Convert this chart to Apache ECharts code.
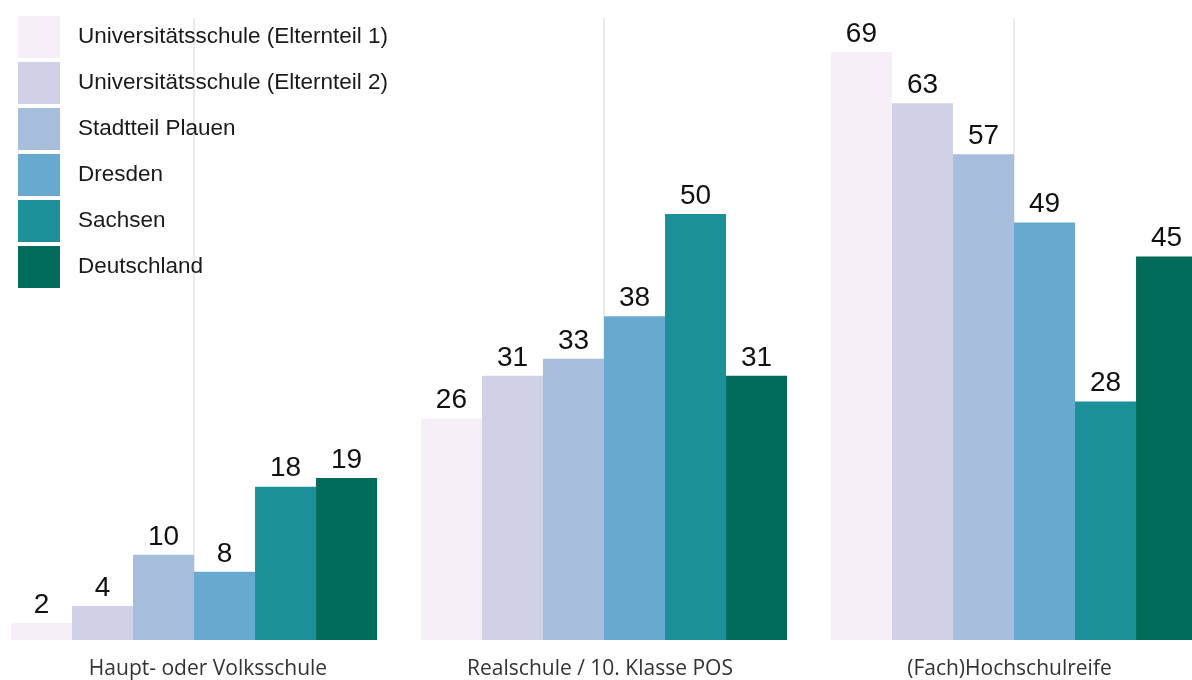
<!DOCTYPE html>
<html>
<head>
<meta charset="utf-8">
<script src="https://cdn.jsdelivr.net/npm/echarts@6/dist/echarts.min.js"></script>
<style>html,body{margin:0;padding:0;background:#fff;overflow:hidden;width:1192px;height:680px}#c{width:1230px;height:680px;margin-left:-11px}</style>
</head>
<body>
<div id="c"></div>
<script>
const categories = ['Haupt- oder Volksschule', 'Realschule / 10. Klasse POS', '(Fach)Hochschulreife'];
const seriesNames = ['Universitätsschule (Elternteil 1)', 'Universitätsschule (Elternteil 2)', 'Stadtteil Plauen', 'Dresden', 'Sachsen', 'Deutschland'];
const uniEltern1 = [2, 26, 69];
const uniEltern2 = [4, 31, 63];
const plauen = [10, 33, 57];
const dresden = [8, 38, 49];
const sachsen = [18, 50, 28];
const deutschland = [19, 31, 45];
const values = [uniEltern1, uniEltern2, plauen, dresden, sachsen, deutschland];
const colors = ['#f6eff7', '#d0d1e6', '#a6bddb', '#67a9cf', '#1c9099', '#016c59'];

const chart = echarts.init(document.getElementById('c'));
const series = seriesNames.map((name, i) => ({
  name: name,
  type: 'bar',
  data: values[i],
  barGap: '0%',
  barCategoryGap: '10.7%',
  z: 3,
  itemStyle: { color: colors[i] },
  label: {
    show: true, position: 'top', distance: 4,
    fontFamily: 'Liberation Sans', fontSize: 28, color: '#111'
  }
}));
// invisible helper series carrying the vertical grid lines at category centres
series.push({
  name: 'grid',
  type: 'line',
  data: categories.map(() => 0),
  symbol: 'none',
  lineStyle: { opacity: 0 },
  silent: true,
  z: 0,
  markLine: {
    silent: true, symbol: 'none', z: 0,
    label: { show: false },
    lineStyle: { color: '#ebebeb', type: 'solid', width: 2 },
    data: categories.map(c => ({ xAxis: c }))
  }
});

const labelBase = { fontFamily: 'Open Sans', fontSize: 21, color: '#333' };

chart.setOption({
  animation: false,
  backgroundColor: '#fff',
  color: colors,
  grid: { left: 0, right: 0, top: 18, bottom: 38.5, containLabel: false },
  legend: {
    orient: 'vertical', left: 29, top: 16, padding: 0, z: 4,
    itemWidth: 42, itemHeight: 42, itemGap: 4,
    icon: 'rect',
    textStyle: { fontFamily: 'Liberation Sans', fontSize: 22.5, color: '#1a1a1a', padding: [0, 0, 0, 13] },
    data: seriesNames
  },
  xAxis: {
    type: 'category', data: categories,
    axisLine: { show: false }, axisTick: { show: false },
    axisLabel: Object.assign({}, labelBase, {
      margin: 19,
      interval: 0,
      hideOverlap: false,
      formatter: (v, idx) => '{a' + idx + '|' + v + '}',
      rich: {
        a0: Object.assign({}, labelBase, { padding: [0, 0, 0, 28] }),
        a1: Object.assign({}, labelBase, { padding: [0, 8, 0, 0] }),
        a2: Object.assign({}, labelBase, { padding: [0, 9, 0, 0] })
      }
    })
  },
  yAxis: {
    type: 'value', min: 0, max: 73, show: false,
    splitLine: { show: false }
  },
  series: series
});
</script>
</body>
</html>
